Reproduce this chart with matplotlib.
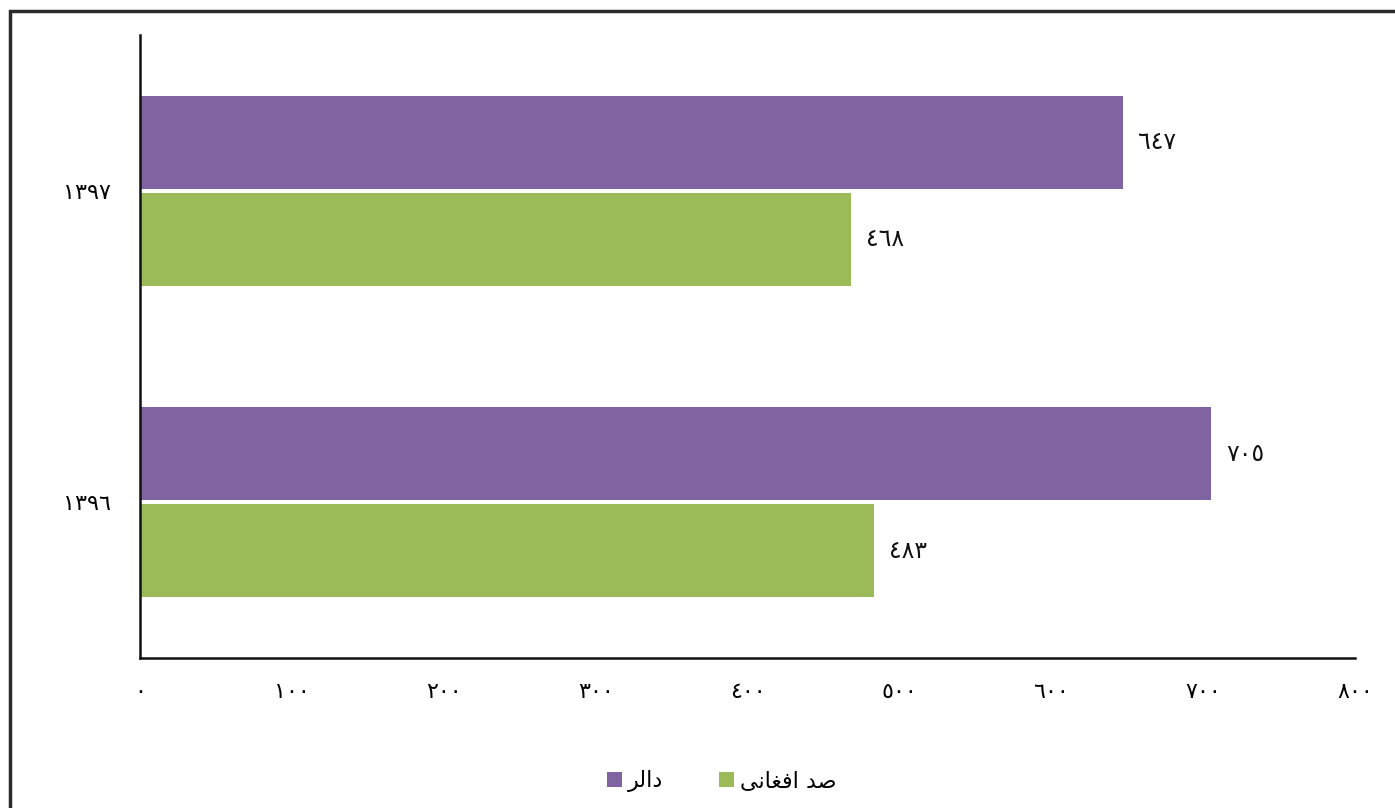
import matplotlib
matplotlib.use("Agg")
import matplotlib.pyplot as plt
from matplotlib.patches import Rectangle
from matplotlib.transforms import ScaledTranslation

plt.rcParams['font.family'] = ['DejaVu Sans']

years = ["1396", "1397"]
dollar = [705, 647]
afghani = [483, 468]
xticks = [0, 100, 200, 300, 400, 500, 600, 700, 800]
# legend labels in visual (presentation-form) order
label_dollar = "\uFEAE\uFEDF\uFE8D\uFEA9"            # دالر
label_afghani = "\uFEF0\uFEE7\uFE8E\uFED0\uFED3\uFE8D \uFEAA\uFEBB"  # صد افغانی

DIG = str.maketrans("0123456789", "٠١٢٣٤٥٦٧٨٩")
def ar(s):
    return str(s).translate(DIG)

purple = "#8064A2"
green = "#9BBB59"

fig = plt.figure(figsize=(13.95, 8.08), dpi=100)
W, H = 1395, 808
ax = fig.add_axes([140 / W, 1 - 658 / H, (1355 - 140) / W, (658 - 35) / H])

ypos = list(range(len(years)))
h = 0.298
gap = 0.007
yp = [y + h / 2 + gap for y in ypos]
yg = [y - h / 2 - gap for y in ypos]
ax.barh(yp, dollar, height=h, color=purple, label=label_dollar)
ax.barh(yg, afghani, height=h, color=green, label=label_afghani)

for y, v in zip(yp, dollar):
    ax.text(v + 10, y, ar(v), va="center", ha="left", fontsize=17, color="#111111")
for y, v in zip(yg, afghani):
    ax.text(v + 10, y, ar(v), va="center", ha="left", fontsize=17, color="#111111")

ax.set_xlim(0, 800)
ax.set_ylim(-0.5, 1.5)
ax.set_xticks(xticks)
ax.set_xticklabels([ar(t) for t in xticks], fontsize=16)
ax.set_yticks(ypos)
ax.set_yticklabels([ar(y) for y in years], fontsize=16)
off = ScaledTranslation(0, 4 / 100, fig.dpi_scale_trans)
for lab in ax.get_yticklabels():
    lab.set_transform(lab.get_transform() + off)
ax.tick_params(axis="both", length=0)
ax.tick_params(axis="x", pad=17)
ax.tick_params(axis="y", pad=21)
for s in ["top", "right"]:
    ax.spines[s].set_visible(False)
for s in ["left", "bottom"]:
    ax.spines[s].set_linewidth(1.8)
    ax.spines[s].set_color("#111111")

handles, labels = ax.get_legend_handles_labels()
fig.legend(handles, labels, loc="center", bbox_to_anchor=(722 / W, 1 - 781 / H),
           ncol=2, frameon=False, fontsize=16, handlelength=0.65, handleheight=0.65,
           handletextpad=0.3, columnspacing=2.5)

fig.add_artist(Rectangle((9.5 / W, -0.1), 1.2, 1 - 11 / H + 0.1, transform=fig.transFigure,
                         fill=False, edgecolor="#2b2b2b", linewidth=2.5))

fig.savefig("out.png", dpi=100)
